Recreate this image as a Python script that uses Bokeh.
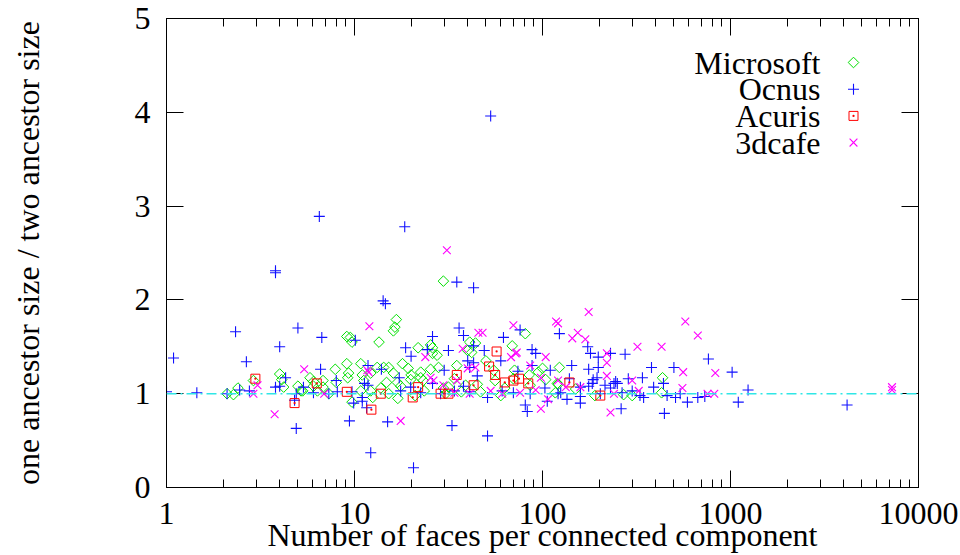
from bokeh.plotting import figure
from bokeh.models import (FixedTicker, LinearAxis, LogAxis, Span, Label)
from bokeh.embed import file_html
from bokeh.resources import INLINE
import math

# ---------------- data ----------------
x_ticks = [1, 10, 100, 1000, 10000]
x_tick_labels = ["1", "10", "100", "1000", "10000"]
x_minor = [m * 10 ** k for k in range(4) for m in range(2, 10)]
y_ticks = [0, 1, 2, 3, 4, 5]
y_tick_labels = ["0", "1", "2", "3", "4", "5"]

series_names = ["Microsoft", "Ocnus", "Acuris", "3dcafe"]

microsoft_x = [29.7, 16.7, 16.4, 16.1, 9.1, 9.5, 9.7, 13.5, 21.8, 26, 25.4, 26, 27.5,
               2.1, 2.27, 2.4, 2.9, 4.0, 4.1, 5.0, 5.2, 5.8, 6.05, 6.8, 7.3, 7.9, 8.0, 4.2,
               6.05, 6.8, 9.1, 9.3, 10.8, 12.2, 14.3, 16.1, 18, 9.7, 12.5, 17, 15.2, 22.5,
               23.5, 29.7, 11.2, 16.9, 6.35, 5.3, 9.2, 13.2, 15.2, 19.3, 22.5, 25.4, 28, 14.8,
               19.9, 23.2, 41, 40, 31.6, 12.2, 81, 69, 44, 42, 50, 100, 95, 123, 121, 117,
               190, 70, 120, 435, 430, 270, 300, 10.8, 13.8, 17.6, 21, 30.5, 34, 39, 46.8,
               56, 63, 71, 86, 104, 60, 11, 20, 35, 55, 45, 85, 150, 37]
microsoft_y = [2.20, 1.79, 1.71, 1.67, 1.61, 1.60, 1.55, 1.55, 1.49, 1.49, 1.52, 1.43, 1.41,
               1.00, 0.99, 1.06, 1.14, 1.21, 1.15, 1.08, 1.03, 1.17, 1.08, 1.14, 1.00, 1.26, 1.12, 1.07,
               1.13, 1.07, 1.32, 1.22, 1.32, 1.22, 1.28, 1.22, 1.32, 0.91, 0.96, 0.95, 1.00, 1.17,
               1.03, 1.06, 1.14, 1.12, 1.03, 1.03, 1.17, 1.28, 1.28, 1.27, 1.23, 1.26, 1.28, 1.12,
               1.15, 1.14, 1.55, 1.46, 1.07, 1.03, 1.64, 1.51, 1.54, 1.44, 1.35, 1.27, 1.23, 1.28, 1.10, 1.01,
               0.98, 1.16, 1.11, 1.17, 1.01, 0.99, 0.98, 1.03, 1.06, 1.08, 0.98, 1.00, 1.16, 1.09, 1.02,
               1.14, 1.06, 1.25, 1.09, 1.15, 0.98, 1.20, 1.20, 1.30, 1.25, 1.10, 1.20, 1.05, 1.02]

ocnus_x = [53, 6.5, 18.5, 3.8, 3.8, 14.2, 14.6, 35, 43, 2.33, 5.0, 6.7, 4.0, 10.1, 18.7, 26,
           1.09, 1.0, 1.45, 2.66, 6.6, 4.3, 4.0, 3.8, 2.45, 2.76, 5.35, 6.05, 4.9, 2.1, 4.9, 8.0,
           12.2, 20.6, 9.4, 15, 11.6, 9.9, 4.8, 20, 24.4, 11.8, 13.9, 17.3, 11.3, 9.7, 11, 8.1,
           7.3, 36, 38, 31.6, 43, 40, 41, 30, 45, 11.8, 26, 38, 11, 33, 17.6, 19.9, 34, 51,
           76, 62, 123, 49, 88, 92, 60, 43, 88, 143, 176, 198, 180, 198, 230, 195, 186, 139,
           159, 176, 250, 230, 110, 74, 159, 135, 106, 81, 83, 159, 121, 86, 61, 51, 103, 174,
           380, 500, 763, 1020, 1100, 445, 262, 670, 590, 440, 340, 286, 330, 265, 240, 460,
           510, 184, 215, 275, 1240, 4170, 730, 300, 345, 245, 390, 22.5, 28.7, 41, 70, 125,
           203, 540]
ocnus_y = [3.96, 2.89, 2.78, 2.31, 2.29, 1.99, 1.96, 2.19, 2.13, 1.66, 1.70, 1.60, 1.50, 1.57, 1.49, 1.61,
           1.38, 1.02, 1.01, 1.34, 1.26, 1.17, 1.08, 1.07, 1.04, 1.03, 1.07, 1.01, 1.00, 1.00, 0.63, 1.14,
           0.37, 0.21, 0.71, 0.70, 0.85, 0.90, 0.93, 1.40, 1.47, 1.30, 1.26, 1.17, 1.11, 1.02, 0.92, 1.02,
           1.00, 1.70, 1.62, 1.46, 1.51, 1.35, 1.28, 1.25, 1.19, 1.09, 1.11, 1.08, 0.96, 0.66, 1.03, 1.07, 1.03, 0.55,
           1.68, 1.60, 1.64, 1.46, 1.47, 1.43, 1.35, 1.33, 1.30, 1.30, 1.26, 1.28, 1.43, 1.39, 1.43, 1.17, 1.15, 1.16,
           1.07, 1.08, 1.11, 1.06, 1.25, 1.24, 0.97, 0.94, 0.92, 0.88, 0.81, 0.90, 1.00, 1.00, 1.03, 0.96, 1.06, 1.50,
           1.28, 1.28, 1.37, 1.23, 0.91, 0.79, 0.84, 0.96, 0.91, 1.11, 1.17, 1.16, 0.98, 1.01, 1.11, 0.98,
           0.96, 1.11, 1.09, 1.42, 1.04, 0.88, 0.97, 1.03, 0.96, 1.13, 1.07, 1.01, 1.00, 1.02, 1.01, 1.01,
           1.00, 1.00]

acuris_x = [2.97, 4.8, 6.3, 9.1, 12.3, 13.8, 21.8, 20.4, 28.7, 31.6, 35, 43, 57, 52, 56, 63,
            70, 75, 84, 139, 203]
acuris_y = [1.16, 0.90, 1.11, 1.02, 0.83, 1.00, 1.07, 0.96, 1.00, 1.00, 1.20, 1.09, 1.45, 1.29, 1.20, 1.12,
            1.14, 1.16, 1.11, 1.12, 0.98]

cafe_x = [31, 5.4, 3.05, 2.9, 3.76, 6.9, 12, 11.9, 17.6, 23.8, 25.4, 26.3, 11.7, 37.6, 45.6,
          29.7, 40, 35, 176, 118, 121, 70, 48, 154, 144, 169, 72, 104, 68, 220, 220, 86, 98, 44,
          121, 220, 159, 240, 107, 98, 230, 133, 320, 430, 670, 575, 560, 830, 555, 755, 820,
          300, 325, 73, 7230, 7230, 41, 53, 76, 92, 34, 61]
cafe_y = [2.53, 1.26, 1.09, 1.00, 0.78, 1.00, 1.72, 1.23, 0.71, 1.39, 1.17, 1.14, 1.25, 1.48, 1.65,
          1.09, 1.27, 1.14, 1.87, 1.77, 1.75, 1.73, 1.65, 1.65, 1.59, 1.58, 1.43, 1.39, 1.39, 1.43, 1.33, 1.30, 1.17, 1.28,
          1.14, 1.19, 1.07, 1.00, 0.94, 0.84, 0.80, 1.07, 1.50, 1.50, 1.62, 1.77, 1.23, 1.22, 1.06, 1.00, 1.00,
          1.14, 1.03, 1.44, 1.07, 1.04, 1.00, 1.03, 1.01, 1.04, 1.01, 1.00]

reference_ratio = 1.0

# ---------------- styling constants ----------------
FONT = "'Liberation Serif', 'Times New Roman', 'DejaVu Serif', serif"
FS = "32px"
GREEN = "#00e000"
BLUE = "#1010ff"
RED = "#ff0000"
MAGENTA = "#ff00ff"
CYAN = "#30e6e6"

# pixel geometry of the plot frame (used only to place the gnuplot-style legend)
FRAME_L, FRAME_R, FRAME_T, FRAME_B = 166, 918, 18, 487
X_DECADE_PX = (FRAME_R - FRAME_L) / 4.0
Y_UNIT_PX = (FRAME_B - FRAME_T) / 5.0

def px_to_x(px):
    return 10 ** ((px - FRAME_L) / X_DECADE_PX)

def px_to_y(py):
    return (FRAME_B - py) / Y_UNIT_PX

p = figure(width=960, height=555, x_axis_type="log", x_range=(1, 10000), y_range=(0, 5),
           output_backend="svg", toolbar_location=None,
           min_border_left=FRAME_L, min_border_right=960 - FRAME_R,
           min_border_top=FRAME_T, min_border_bottom=555 - FRAME_B)
p.xgrid.visible = False
p.ygrid.visible = False
p.outline_line_color = "black"
p.outline_line_width = 1
p.background_fill_color = "white"
p.border_fill_color = "white"

# reference line y = 1
p.add_layout(Span(location=reference_ratio, dimension="width", line_color=CYAN,
                  line_width=1.6, line_dash="10 4 2 4"))

styles = [
    dict(marker="square", size=7.5, angle=math.pi / 4, fill_color=None, line_color=GREEN, line_width=1),
    dict(marker="cross", size=11, line_color=BLUE, line_width=1.1),
    dict(marker="square_dot", size=9, fill_color=None, line_color=RED, line_width=1),
    dict(marker="x", size=11, line_color=MAGENTA, line_width=1.1),
]
series = [(microsoft_x, microsoft_y), (ocnus_x, ocnus_y), (acuris_x, acuris_y), (cafe_x, cafe_y)]
for (sx, sy), st in zip(series, styles):
    p.scatter(sx, sy, **st)

# axes
def style_axis(ax, minor=True):
    ax.axis_line_color = "black"
    ax.major_tick_line_color = "black"
    ax.major_tick_in = 17
    ax.major_tick_out = 0
    if minor:
        ax.minor_tick_line_color = "black"
        ax.minor_tick_in = 8
        ax.minor_tick_out = 0
    else:
        ax.minor_tick_line_color = None
    ax.major_label_text_font = FONT
    ax.major_label_text_font_size = FS
    ax.major_label_text_color = "black"
    ax.axis_label_text_font = FONT
    ax.axis_label_text_font_size = FS
    ax.axis_label_text_font_style = "normal"
    ax.axis_label_text_color = "black"

xa = p.xaxis[0]
xa.ticker = FixedTicker(ticks=x_ticks, minor_ticks=x_minor)
xa.major_label_overrides = dict(zip(x_ticks, x_tick_labels))
xa.axis_label = "Number of faces per connected component"
style_axis(xa)
xa.major_label_standoff = 15
xa.axis_label_standoff = -10

ya = p.yaxis[0]
ya.ticker = FixedTicker(ticks=y_ticks)
ya.major_label_standoff = 16
ya.major_label_overrides = dict(zip(y_ticks, y_tick_labels))
ya.axis_label = "one ancestor size / two ancestor size"
style_axis(ya, minor=False)
ya.axis_label_standoff = 86

top = LogAxis(ticker=FixedTicker(ticks=x_ticks, minor_ticks=x_minor))
style_axis(top)
top.major_label_text_font_size = "2px"
top.major_label_text_color = None
top.major_label_standoff = 0
p.add_layout(top, "above")

right = LinearAxis(ticker=FixedTicker(ticks=y_ticks))
style_axis(right, minor=False)
right.major_label_text_font_size = "2px"
right.major_label_text_color = None
right.major_label_standoff = 0
p.add_layout(right, "right")

# gnuplot-style key: right-aligned names with the point symbol to their right
KEY_TEXT_RIGHT_PX = 820
KEY_SYMBOL_PX = 853
KEY_TOP_PX = 62
KEY_ROW_PX = 26.7
for i, (name, st) in enumerate(zip(series_names, styles)):
    ypix = KEY_TOP_PX + i * KEY_ROW_PX
    p.add_layout(Label(x=px_to_x(KEY_TEXT_RIGHT_PX), y=px_to_y(ypix), text=name,
                       text_align="right", text_baseline="middle",
                       text_font=FONT, text_font_size=FS, text_color="black"))
    p.scatter([px_to_x(KEY_SYMBOL_PX)], [px_to_y(ypix)], **st)

open("out.html", "w").write(file_html(p, INLINE))
